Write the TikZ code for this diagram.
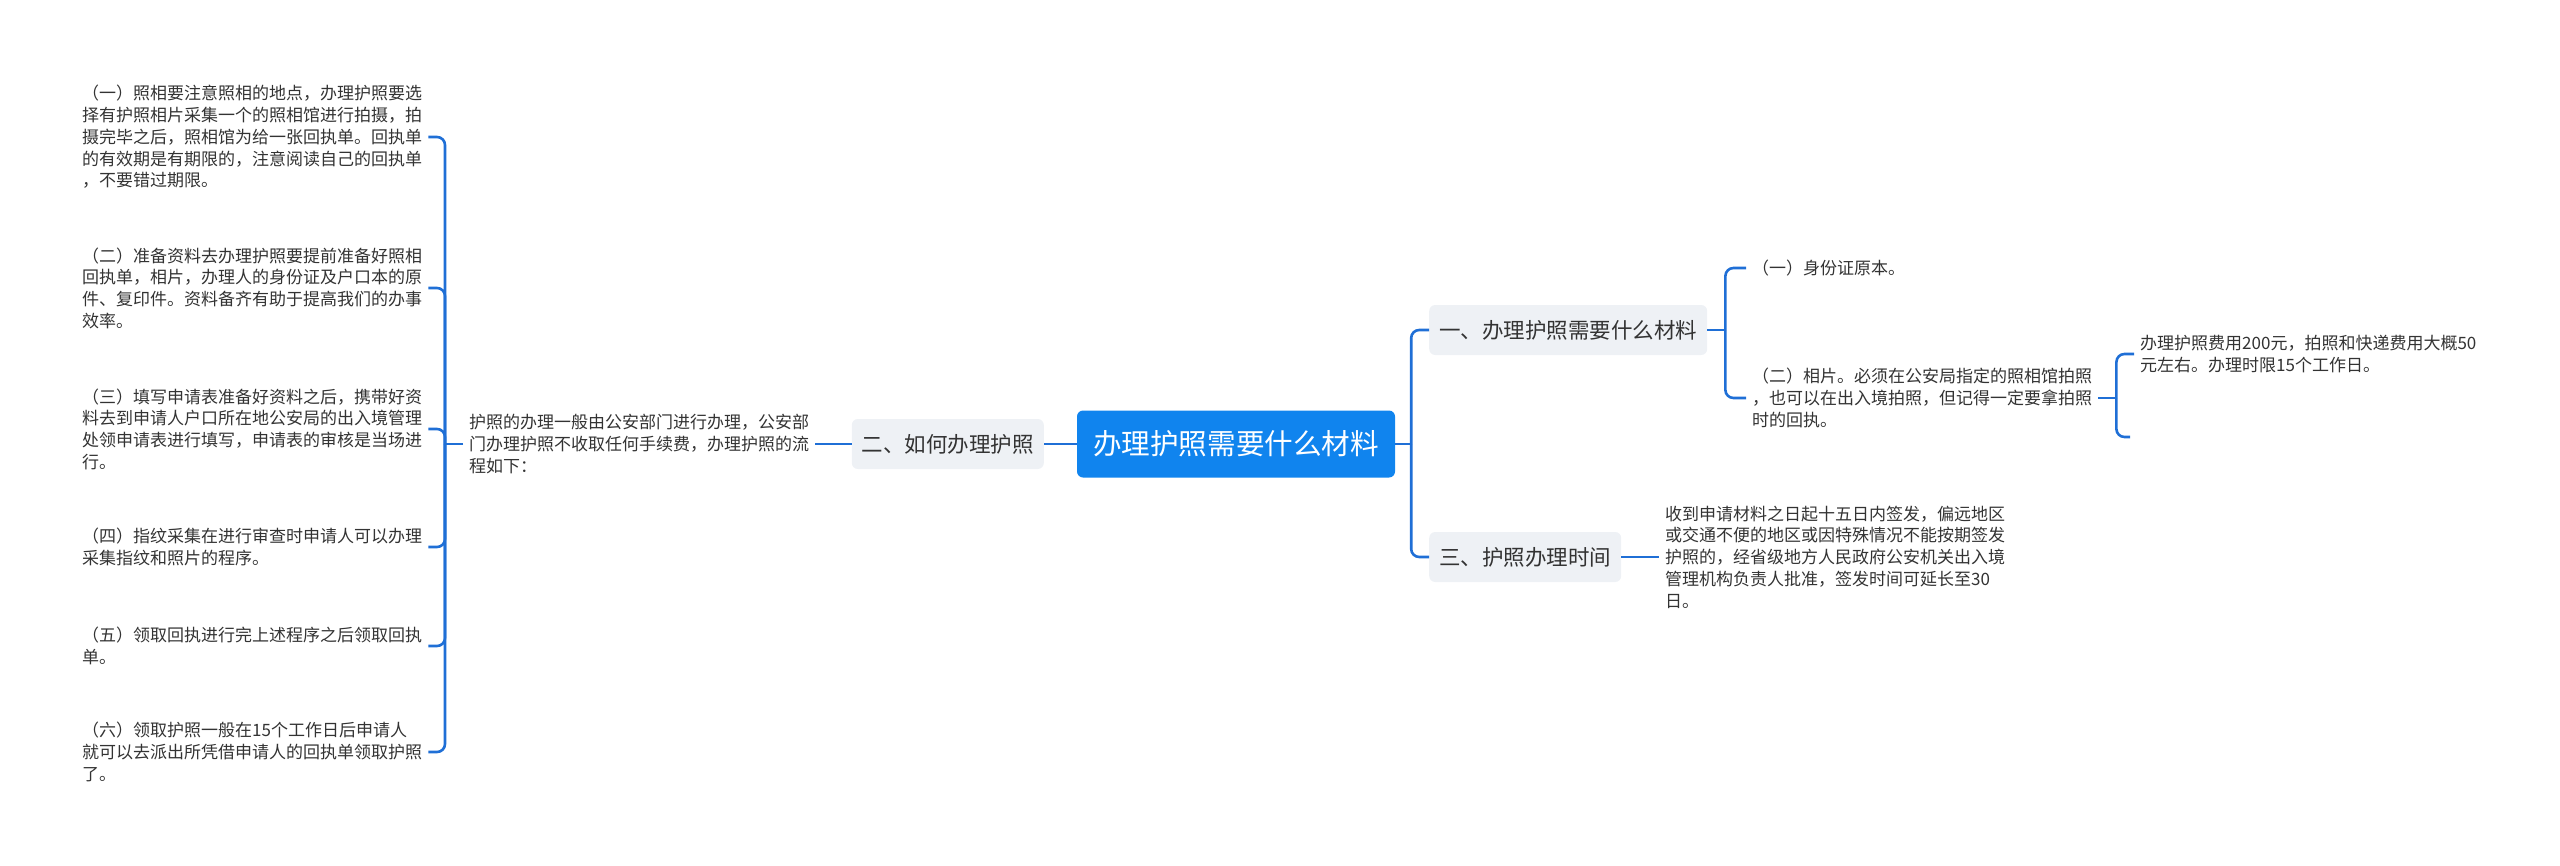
\documentclass[tikz,border=0pt]{standalone}
\usepackage{fontspec}
\setmainfont{Noto Sans CJK SC}
\usepackage{tikz}
\definecolor{linkblue}{HTML}{1F6FD6}
\definecolor{rootblue}{HTML}{1084EE}
\definecolor{topicgray}{HTML}{EEF1F5}
\definecolor{txtgray}{HTML}{333333}

\begin{document}
\begin{tikzpicture}
  [x=1pt,y=-1pt,
   conn/.style={draw=linkblue,line width=2.6pt},
   rootbox/.style={fill=rootblue,text=white,rounded corners=6pt,font=\fontsize{28.6}{34}\selectfont,inner xsep=16pt,minimum height=67pt},
   topicbox/.style={fill=topicgray,text=txtgray,rounded corners=6pt,font=\fontsize{21.5}{26}\selectfont,inner xsep=10pt,minimum height=50pt},
   notetext/.style={text=txtgray,align=left,font=\fontsize{17}{21.7}\selectfont,inner xsep=6pt,inner ysep=2pt}]
  \useasboundingbox (0,0) rectangle (2560,865);
  \node[rootbox] (root) at (1236,444) {办理护照需要什么材料};
  \node[topicbox,anchor=west] (t1) at (1429,330) {一、办理护照需要什么材料};
  \node[topicbox,anchor=east] (t2) at (1044,444) {二、如何办理护照};
  \node[topicbox,anchor=west] (t3) at (1429,557) {三、护照办理时间};
  \node[notetext,anchor=west] (t1a) at (1746,268) {（一）身份证原本。};
  \node[notetext,anchor=west] (t1b) at (1746,398) {（二）相片。必须在公安局指定的照相馆拍照\\，也可以在出入境拍照，但记得一定要拿拍照\\时的回执。};
  \node[notetext,anchor=west] (t1b1) at (2134,354) {办理护照费用200元，拍照和快递费用大概50\\元左右。办理时限15个工作日。};
  \coordinate (t1b2) at (2130,437);
  \node[notetext,anchor=west] (t3a) at (1659,557) {收到申请材料之日起十五日内签发，偏远地区\\或交通不便的地区或因特殊情况不能按期签发\\护照的，经省级地方人民政府公安机关出入境\\管理机构负责人批准，签发时间可延长至30\\日。};
  \node[notetext,anchor=west] (t2a) at (463,444) {护照的办理一般由公安部门进行办理，公安部\\门办理护照不收取任何手续费，办理护照的流\\程如下：};
  \node[notetext,anchor=west] (s1) at (76,137) {（一）照相要注意照相的地点，办理护照要选\\择有护照相片采集一个的照相馆进行拍摄，拍\\摄完毕之后，照相馆为给一张回执单。回执单\\的有效期是有期限的，注意阅读自己的回执单\\，不要错过期限。};
  \node[notetext,anchor=west] (s2) at (76,288) {（二）准备资料去办理护照要提前准备好照相\\回执单，相片，办理人的身份证及户口本的原\\件、复印件。资料备齐有助于提高我们的办事\\效率。};
  \node[notetext,anchor=west] (s3) at (76,429) {（三）填写申请表准备好资料之后，携带好资\\料去到申请人户口所在地公安局的出入境管理\\处领申请表进行填写，申请表的审核是当场进\\行。};
  \node[notetext,anchor=west] (s4) at (76,547) {（四）指纹采集在进行审查时申请人可以办理\\采集指纹和照片的程序。};
  \node[notetext,anchor=west] (s5) at (76,646) {（五）领取回执进行完上述程序之后领取回执\\单。};
  \node[notetext,anchor=west] (s6) at (76,752) {（六）领取护照一般在15个工作日后申请人\\就可以去派出所凭借申请人的回执单领取护照\\了。};
  \draw[conn] (root.west) -- (t2.east);
  \draw[conn] (root.east) -- ++(16,0) coordinate (j0);
  \foreach \to in {t1,t3}
    \draw[conn,rounded corners=8pt] (j0) |- (\to.west);
  \draw[conn] (t1.east) -- ++(18,0) coordinate (j1);
  \foreach \to in {t1a,t1b}
    \draw[conn,rounded corners=8pt] (j1) |- (\to.west);
  \draw[conn] (t1b.east) -- ++(18,0) coordinate (j2);
  \draw[conn,rounded corners=8pt] (j2) |- (t1b1.west);
  \draw[conn,rounded corners=8pt] (j2) |- (t1b2);
  \draw[conn] (t3.east) -- (t3a.west);
  \draw[conn] (t2.west) -- (t2a.east);
  \draw[conn] (t2a.west) -- ++(-18,0) coordinate (j3);
  \foreach \to in {s1,s2,s3,s4,s5,s6}
    \draw[conn,rounded corners=8pt] (j3) |- (\to.east);
\end{tikzpicture}
\end{document}
